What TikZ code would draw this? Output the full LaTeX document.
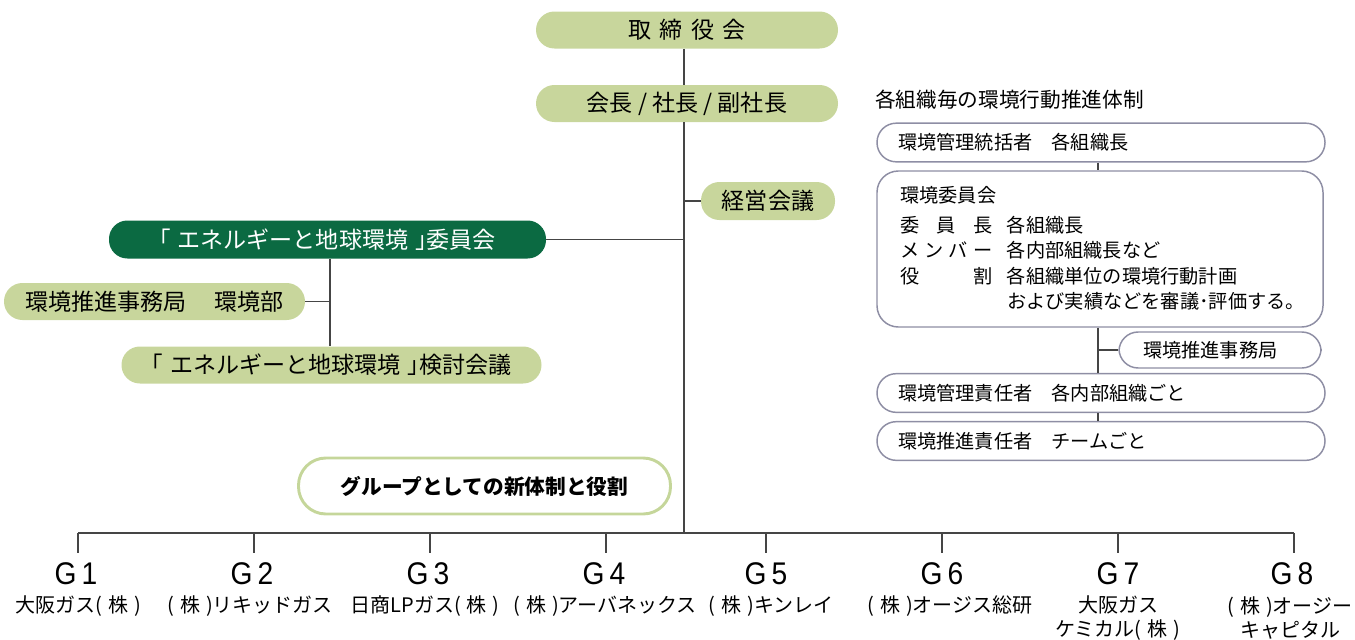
\documentclass[tikz,border=0pt]{standalone}
\usepackage{fontspec}
\setmainfont{Noto Sans CJK JP}
\newfontfamily\glab{Liberation Sans}
\definecolor{lg}{HTML}{C8D69C}
\definecolor{dg}{HTML}{0B6A42}
\definecolor{ln}{HTML}{454545}
\definecolor{bd}{HTML}{8E8EA4}
\definecolor{gb}{HTML}{C5D69A}
\newcommand{\kabu}{(\hspace{0.3em}株\hspace{0.3em})}
\begin{document}
\begin{tikzpicture}[x=0.75pt,y=-0.75pt,
  pill/.style={rectangle, rounded corners=13.8pt, fill=lg, draw=none,
    font=\fontsize{17.3}{20}\selectfont, inner sep=0pt, minimum height=27.75pt},
  conn/.style={draw=ln, line width=1.1pt},
  rconn/.style={draw=ln, line width=1.1pt},
  rbox/.style={rectangle, draw=bd, line width=1.1pt, rounded corners=14.4pt, fill=white,
    minimum height=29pt, text width=304.5pt, inner xsep=15.75pt, inner ysep=0pt, align=left,
    font=\fontsize{14.4}{17}\selectfont},
  rtext/.style={anchor=west, inner sep=0pt, font=\fontsize{14.4}{17}\selectfont},
  glabel/.style={inner sep=0pt, font=\glab\fontsize{23.5}{28}\selectfont},
  cname/.style={inner sep=0pt, align=center, font=\fontsize{15}{17.5}\selectfont}]
\useasboundingbox (0,0) rectangle (1355,639);

% helper coordinates
\coordinate (bar) at (684,533);
\coordinate (cv) at (330,0);
\coordinate (rv) at (1098,0);
\coordinate (bl) at (78,533);
\coordinate (br) at (1294,533);

% main pills
\node[pill, minimum width=226.5pt] (tor) at (687,30) {取\hspace{0.35em}締\hspace{0.35em}役\hspace{0.35em}会};
\node[pill, minimum width=226.5pt] (pres) at (687,103.5) {会長 / 社長 / 副社長};
\node[pill, minimum width=100.5pt, minimum height=28.5pt] (keiei) at (768,201) {経営会議};
\node[pill, fill=dg, text=white, minimum width=327.75pt, minimum height=28.5pt] (comm) at (327.5,239.5) {｢\hspace{0.3em}エネルギーと地球環境\hspace{0.3em}｣委員会};
\node[pill, minimum width=225.75pt] (jimu) at (154.5,301.5) {環境推進事務局\hspace{1.2em}環境部};
\node[pill, minimum width=315pt] (kento) at (331.5,365) {｢\hspace{0.3em}エネルギーと地球環境\hspace{0.3em}｣検討会議};
\node[draw=gb, line width=2.2pt, fill=white, rounded corners=20.5pt, minimum width=279pt,
  minimum height=42pt, inner sep=0pt, font=\bfseries\fontsize{15.5}{18}\selectfont] (grp) at (484.5,486) {グループとしての新体制と役割};

% main connectors
\draw[conn] (tor.south -| bar) -- (pres.north -| bar);
\draw[conn] (pres.south -| bar) -- (bar);
\draw[conn] (keiei.west) -- (keiei.west -| bar);
\draw[conn] (comm.east) -- (comm.east -| bar);
\draw[conn] (comm.south -| cv) -- (kento.north -| cv);
\draw[conn] (jimu.east) -- (jimu.east -| cv);
\draw[conn] (bl) -- (br);

% groups
\node[glabel] (g1) at (76,574) {\scalebox{0.9}[1]{G\hspace{0.18em}1}};
\node[glabel] (g2) at (252,574) {\scalebox{0.9}[1]{G\hspace{0.18em}2}};
\node[glabel] (g3) at (428,574) {\scalebox{0.9}[1]{G\hspace{0.18em}3}};
\node[glabel] (g4) at (604,574) {\scalebox{0.9}[1]{G\hspace{0.18em}4}};
\node[glabel] (g5) at (766,574) {\scalebox{0.9}[1]{G\hspace{0.18em}5}};
\node[glabel] (g6) at (942,574) {\scalebox{0.9}[1]{G\hspace{0.18em}6}};
\node[glabel] (g7) at (1118,574) {\scalebox{0.9}[1]{G\hspace{0.18em}7}};
\node[glabel] (g8) at (1292,574) {\scalebox{0.9}[1]{G\hspace{0.18em}8}};
\coordinate (k1) at (78,0);  \coordinate (k2) at (254,0);  \coordinate (k3) at (430,0);
\coordinate (k4) at (606,0); \coordinate (k5) at (766,0);  \coordinate (k6) at (942,0);
\coordinate (k7) at (1118,0); \coordinate (k8) at (1294,0);
\foreach \k in {k1,k2,k3,k4,k5,k6,k7,k8}{
  \draw[conn] (\k |- bl) -- ++(0,20);
}
\node[cname] (c1) at (78,606) {大阪ガス\kabu};
\node[cname] (c2) at (250,606) {\kabu リキッドガス};
\node[cname] (c3) at (425,606) {日商LPガス\kabu};
\node[cname] (c4) at (605,606) {\kabu アーバネックス};
\node[cname] (c5) at (771,606) {\kabu キンレイ};
\node[cname] (c6) at (950,606) {\kabu オージス総研};
\node[cname] (c7) at (1118,618) {大阪ガス\\ケミカル\kabu};
\node[cname] (c8) at (1290,618) {\kabu オージー\\キャピタル};

% right side
\node[anchor=west, inner sep=0pt, font=\fontsize{15.5}{18}\selectfont] (head) at (875,100) {各組織毎の環境行動推進体制};
\node[rbox] (b1) at (1101,142.5) {環境管理統括者\hspace{1em}各組織長};
\node[draw=bd, line width=1.1pt, rounded corners=16pt, fill=white, minimum width=334.5pt,
  minimum height=117pt, inner sep=0pt] (b2) at (1100,249) {};
\node[rtext] (t1) at (900,195) {環境委員会};
\node[rtext] (t2) at (900,225) {\makebox[69pt][s]{委\hfill 員\hfill 長}\hspace{11pt}各組織長};
\node[rtext] (t3) at (900,250) {\makebox[69pt][s]{メ\hfill ン\hfill バ\hfill ー}\hspace{11pt}各内部組織長など};
\node[rtext] (t4) at (900,276) {\makebox[69pt][s]{役\hfill 割}\hspace{11pt}各組織単位の環境行動計画};
\node[rtext] (t5) at (1007,301) {および実績などを審議･評価する。};
\node[rbox, minimum height=27pt, text width=115.5pt, inner xsep=18pt] (small) at (1220,350) {環境推進事務局};
\node[rbox] (b3) at (1101,393) {環境管理責任者\hspace{1em}各内部組織ごと};
\node[rbox] (b4) at (1101,441) {環境推進責任者\hspace{1em}チームごと};

\draw[rconn] (b1.south -| rv) -- (b2.north -| rv);
\draw[rconn] (b2.south -| rv) -- (b3.north -| rv);
\draw[rconn] (small.west) -- (small.west -| rv);
\draw[rconn] (b3.south -| rv) -- (b4.north -| rv);
\end{tikzpicture}
\end{document}
